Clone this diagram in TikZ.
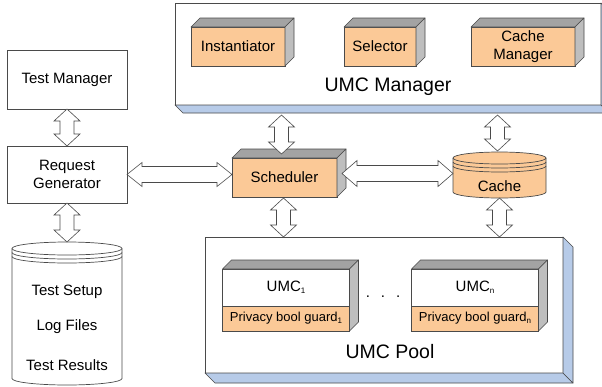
\documentclass[tikz,border=0pt]{standalone}
\usepackage{fontspec}
\setmainfont{Liberation Sans}
\usetikzlibrary{calc}
\definecolor{peach}{HTML}{FBC997}
\definecolor{topgray}{HTML}{A3A3A3}
\definecolor{sidegray}{HTML}{BEBEBE}
\definecolor{shadowblue}{HTML}{B7CBE8}
\definecolor{edge}{HTML}{4A4A4A}
\tikzset{
  fatarr/.style={draw=edge, fill=white, line width=0.6pt, line join=miter},
  plainbox/.style={draw=edge, fill=white, line width=0.8pt, inner sep=0pt, outer sep=0pt, align=center, font=\fontsize{15}{18}\selectfont},
  cubefront/.style={draw=edge, fill=peach, line width=0.8pt, inner sep=0pt, outer sep=0pt, align=center, font=\fontsize{15}{18}\selectfont},
  guardbox/.style={draw=edge, fill=peach, line width=0.8pt, inner sep=0pt, outer sep=0pt, align=center, font=\fontsize{13}{15}\selectfont},
  topface/.style={draw=edge, fill=topgray, line width=0.6pt, line join=round},
  sideface/.style={draw=edge, fill=sidegray, line width=0.6pt, line join=round},
  slabbox/.style={draw=edge, fill=white, line width=0.8pt, inner sep=0pt, outer sep=0pt},
  slabshade/.style={draw=edge, fill=shadowblue, line width=0.6pt, line join=round},
  cylstyle/.style={draw=edge, line width=0.7pt},
  ghost/.style={inner sep=0pt, outer sep=0pt},
  boxtext/.style={font=\fontsize{15}{18}\selectfont},
  biglabel/.style={font=\fontsize{19.5}{22}\selectfont},
}
\newcommand\smallsub[1]{\raisebox{-0.25ex}{\fontsize{8}{9}\selectfont #1}}
% hollow double-headed arrow: A, B, head length, head half width, shaft half width
\newcommand\fatarrow[5]{%
  \draw[fatarr] (#1) -- ($(#1)!#3!(#2)!#4!90:(#2)$) -- ($(#1)!#3!(#2)!#5!90:(#2)$)
    -- ($(#2)!#3!(#1)!#5!-90:(#1)$) -- ($(#2)!#3!(#1)!#4!-90:(#1)$) -- (#2)
    -- ($(#2)!#3!(#1)!#4!90:(#1)$) -- ($(#2)!#3!(#1)!#5!90:(#1)$)
    -- ($(#1)!#3!(#2)!#5!-90:(#2)$) -- ($(#1)!#3!(#2)!#4!-90:(#2)$) -- cycle;}
% 3D faces of a box: top node, bottom node
\newcommand\cubefaces[2]{%
  \draw[topface] (#1.north west) -- ++(9,-9) -- ($(#1.north east)+(9,-9)$) -- (#1.north east) -- cycle;
  \draw[sideface] (#1.north east) -- ++(9,-9) -- ($(#2.south east)+(9,-9)$) -- (#2.south east) -- cycle;}
% slab shadow: node, depth
\newcommand\slabshadow[2]{%
  \draw[slabshade] (#1.south west) -- ++(#2,#2) -- ($(#1.south east)+(#2,#2)$) -- (#1.south east) -- cycle;
  \draw[slabshade] (#1.north east) -- ++(#2,#2) -- ($(#1.south east)+(#2,#2)$) -- (#1.south east) -- cycle;}
% cylinder over a ghost node: node, x radius, y radius, fill
\newcommand\cyl[4]{%
  \draw[cylstyle, fill=#4] ($(#1.north west)+(0,#3)$) -- ($(#1.south west)+(0,-#3)$)
    arc[start angle=180, end angle=360, x radius=#2pt, y radius=#3pt]
    -- ($(#1.north east)+(0,#3)$)
    arc[start angle=0, end angle=180, x radius=#2pt, y radius=#3pt] -- cycle;
  \foreach \k in {0,1,2}
    \draw[cylstyle] ($(#1.north west)+(0,#3+4*\k)$) arc[start angle=180, end angle=360, x radius=#2pt, y radius=#3pt];}
\begin{document}
\begin{tikzpicture}[x=1pt, y=-1pt]
\useasboundingbox (0,0) rectangle (602,386);
\clip (0,0) rectangle (602,386);
\fill[white] (0,0) rectangle (602,386);

% UMC Manager slab
\node[slabbox, minimum width=426pt, minimum height=102pt] (umcm) at (388,54) {};
\slabshadow{umcm}{8}
\node[biglabel] (umcmlabel) at (388,87) {UMC Manager};
\node[cubefront, minimum width=94pt, minimum height=39pt] (inst) at (238,46.5) {Instantiator};
\cubefaces{inst}{inst}
\node[cubefront, minimum width=72pt, minimum height=39pt] (sel) at (380,46.5) {Selector};
\cubefaces{sel}{sel}
\node[cubefront, minimum width=104pt, minimum height=39pt] (cmgr) at (523,46.5) {Cache\\Manager};
\cubefaces{cmgr}{cmgr}

% left column
\node[plainbox, minimum width=120pt, minimum height=59pt] (tm) at (67,79.5) {Test Manager};
\node[plainbox, minimum width=120pt, minimum height=57pt] (rg) at (67,174.5) {Request\\Generator};
\node[ghost, minimum width=110pt, minimum height=143pt] (db) at (67,313.5) {};
\cyl{db}{55}{6.5}{white}
\node[boxtext] (dbsetup) at (67,292) {Test Setup};
\node[boxtext] (dblog) at (67,327) {Log Files};
\node[boxtext] (dbres) at (67,365) {Test Results};

% scheduler and cache
\node[cubefront, minimum width=105pt, minimum height=39pt] (sch) at (284.5,177.5) {Scheduler};
\cubefaces{sch}{sch}
\node[ghost, minimum width=93pt, minimum height=46pt] (cache) at (499.5,175) {};
\cyl{cache}{46.5}{6}{peach}
\node[boxtext] (cachelabel) at (499.5,186) {Cache};

% UMC Pool slab
\node[slabbox, minimum width=358pt, minimum height=136pt] (pool) at (384,305) {};
\slabshadow{pool}{10}
\node[biglabel] (poollabel) at (390,352) {UMC Pool};
\node[plainbox, minimum width=127pt, minimum height=37pt] (umc1) at (286,287.5) {UMC\smallsub{1}};
\node[guardbox, minimum width=127pt, minimum height=25pt] (pg1) at (286,318.5) {Privacy bool guard\smallsub{1}};
\cubefaces{umc1}{pg1}
\node[plainbox, minimum width=127pt, minimum height=37pt] (umcn) at (475,287.5) {UMC\smallsub{n}};
\node[guardbox, minimum width=127pt, minimum height=25pt] (pgn) at (475,318.5) {Privacy bool guard\smallsub{n}};
\cubefaces{umcn}{pgn}
\node[boxtext] (dots) at (383,297) {.\hspace{11pt}.\hspace{11pt}.};

% arrow end points
\coordinate (h1b) at (rg.east -| sch.west);
\coordinate (h2a) at ($(sch.east)+(5,-4)$);
\coordinate (h2b) at (h2a -| cache.west);
\coordinate (v1a) at ($(sch.north |- umcm.south)+(-3,10)$);
\coordinate (v1b) at ($(sch.north)+(-3,-4)$);
\coordinate (v2a) at ($(cache.north |- umcm.south)+(-2,10)$);
\coordinate (v2b) at ($(cache.north)+(-2,-1)$);
\coordinate (v3a) at ($(sch.south)+(-1,1)$);
\coordinate (v3b) at (v3a |- pool.north);
\coordinate (v4a) at (cache.south);
\coordinate (v4b) at (cache.south |- pool.north);

\fatarrow{tm.south}{rg.north}{12pt}{13pt}{7pt}
\fatarrow{rg.south}{db.north}{12pt}{13pt}{7pt}
\fatarrow{rg.east}{h1b}{15pt}{12pt}{8pt}
\fatarrow{h2a}{h2b}{15pt}{13pt}{8pt}
\fatarrow{v1a}{v1b}{12pt}{13pt}{7pt}
\fatarrow{v2a}{v2b}{12pt}{13pt}{7pt}
\fatarrow{v3a}{v3b}{12pt}{13pt}{7pt}
\fatarrow{v4a}{v4b}{12pt}{13pt}{7pt}
\end{tikzpicture}
\end{document}
